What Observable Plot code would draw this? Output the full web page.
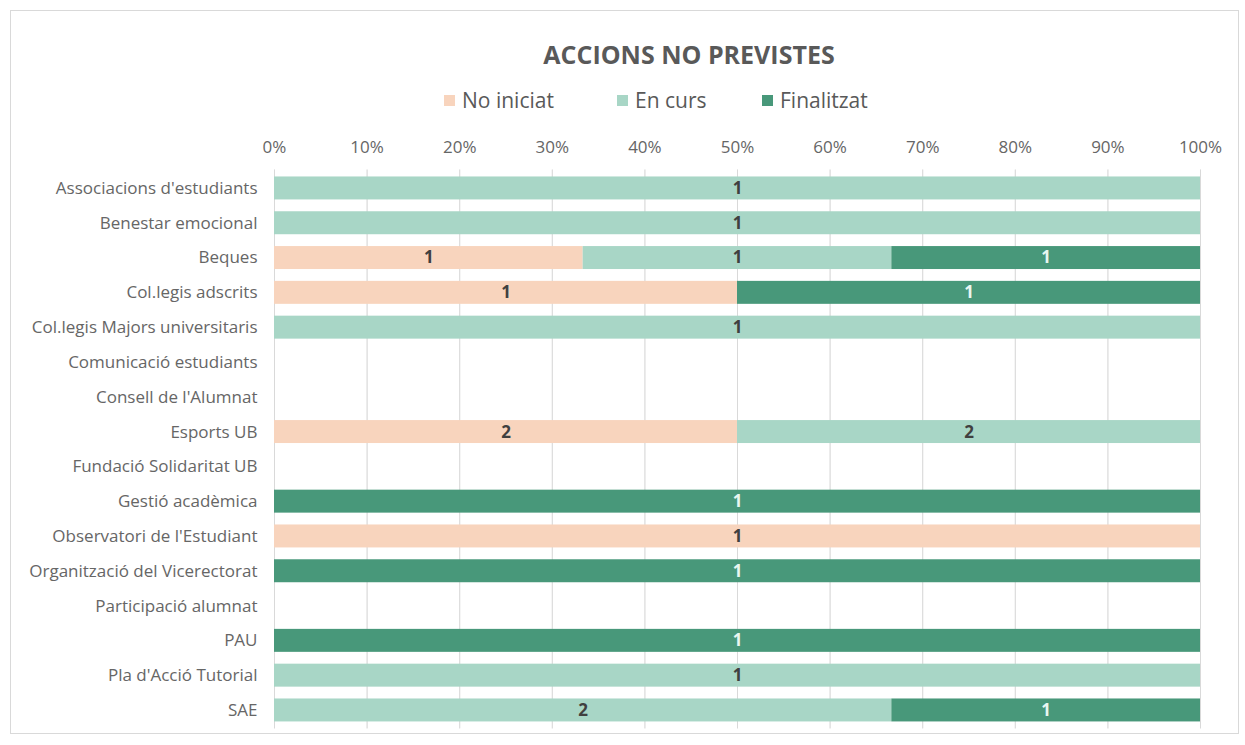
<!DOCTYPE html>
<html>
<head>
<meta charset="utf-8">
<script src="https://cdn.jsdelivr.net/npm/d3@7"></script>
<script src="https://cdn.jsdelivr.net/npm/@observablehq/plot@0.6"></script>
<style>
  body { margin: 0; background: #fff; font-family: "Open Sans", sans-serif; }
  #frame { position: absolute; left: 10px; top: 10px; width: 1229px; height: 724px; border: 1px solid #d9d9d9; box-sizing: border-box; }
  #title { position: absolute; left: 0; width: 1378px; top: 37px; text-align: center; font-size: 25px; font-weight: bold; color: #595959; line-height: 34px; }
  .sw { position: absolute; width: 11px; height: 11px; top: 95px; }
  .lt { position: absolute; top: 86px; font-size: 21px; line-height: 28px; color: #595959; }
  #chart { position: absolute; left: 0; top: 125px; }
</style>
</head>
<body>
<div id="frame"></div>
<div id="title">ACCIONS NO PREVISTES</div>
<div id="legend"></div>
<div id="chart"></div>
<script>
const categories = [
  "Associacions d'estudiants",
  "Benestar emocional",
  "Beques",
  "Col.legis adscrits",
  "Col.legis Majors universitaris",
  "Comunicació estudiants",
  "Consell de l'Alumnat",
  "Esports UB",
  "Fundació Solidaritat UB",
  "Gestió acadèmica",
  "Observatori de l'Estudiant",
  "Organització del Vicerectorat",
  "Participació alumnat",
  "PAU",
  "Pla d'Acció Tutorial",
  "SAE"
];
const statuses = ["No iniciat", "En curs", "Finalitzat"];
const colors = ["#f8d4bd", "#a8d6c6", "#48987a"];
const noIniciat  = [0, 0, 1, 1, 0, 0, 0, 2, 0, 0, 1, 0, 0, 0, 0, 0];
const enCurs     = [1, 1, 1, 0, 1, 0, 0, 2, 0, 0, 0, 0, 0, 0, 1, 2];
const finalitzat = [0, 0, 1, 1, 0, 0, 0, 0, 0, 1, 0, 1, 0, 1, 0, 1];
const tickValues = [0, 0.1, 0.2, 0.3, 0.4, 0.5, 0.6, 0.7, 0.8, 0.9, 1];

const series = [noIniciat, enCurs, finalitzat];
const data = [];
categories.forEach((c, i) => {
  statuses.forEach((s, j) => {
    if (series[j][i] > 0) data.push({cat: c, status: s, value: series[j][i]});
  });
});

// legend
const lg = document.getElementById("legend");
const swX = [444, 617, 762];
statuses.forEach((s, j) => {
  const sw = document.createElement("div");
  sw.className = "sw";
  sw.style.left = swX[j] + "px";
  sw.style.background = colors[j];
  lg.appendChild(sw);
  const t = document.createElement("div");
  t.className = "lt";
  t.style.left = (swX[j] + 18) + "px";
  t.textContent = s;
  lg.appendChild(t);
});

const chart = Plot.plot({
  width: 1245,
  height: 620,
  marginLeft: 274,
  marginRight: 45,
  marginTop: 44.5,
  marginBottom: 16.6,
  style: { fontFamily: "Open Sans, sans-serif", fontSize: "17px", color: "#666666" },
  x: {
    domain: [0, 1],
    axis: "top",
    ticks: tickValues,
    tickFormat: d => Math.round(d * 100) + "%",
    tickSize: 0,
    tickPadding: 17,
    grid: true,
    label: null
  },
  y: {
    domain: categories,
    paddingInner: 0.34,
    paddingOuter: 0.2,
    round: false,
    tickSize: 0,
    tickPadding: 17,
    label: null
  },
  color: { domain: statuses, range: colors },
  marks: [
    Plot.gridX(tickValues, { stroke: "#d9d9d9", strokeOpacity: 1 }),
    Plot.barX(data, Plot.stackX({
      y: "cat", x: "value", fill: "status", order: statuses, offset: "normalize"
    })),
    Plot.text(data, Plot.stackX({
      y: "cat", x: "value", z: "status", order: statuses, offset: "normalize",
      text: d => String(d.value),
      fill: d => d.status === "Finalitzat" ? "#e8f7f1" : "#404040",
      fontWeight: "bold", fontSize: 17
    }))
  ]
});
document.getElementById("chart").appendChild(chart);
</script>
</body>
</html>
